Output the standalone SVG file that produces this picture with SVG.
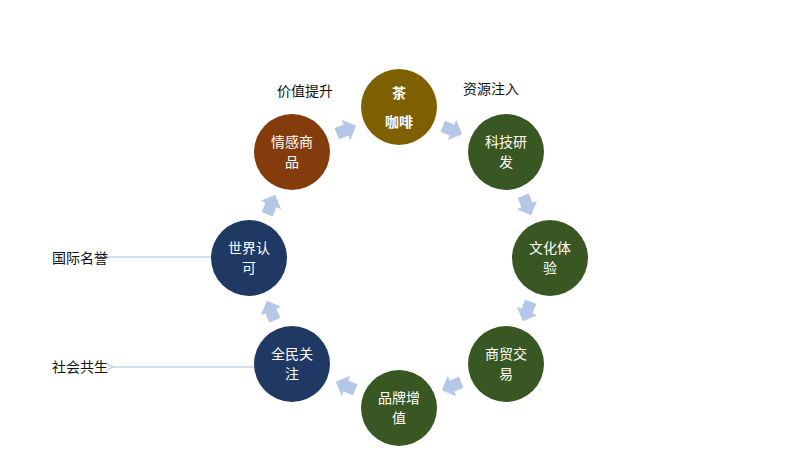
<svg xmlns="http://www.w3.org/2000/svg" width="800" height="475" viewBox="0 0 800 475">
<style>
text{font-family:"Liberation Sans","Noto Sans CJK SC",sans-serif;font-size:14px;text-anchor:middle}
.w{fill:#fff}.k{fill:#111}
.ar{fill:#b4c7e7}
.ln{stroke:#a9c0dd;stroke-width:1;fill:none}
</style>
<defs>
<path id="a" d="M-10,-6 L0,-6 L0,-11 L11,0 L0,11 L0,6 L-10,6 Z"/>
<marker id="m" markerWidth="8" markerHeight="8" refX="1" refY="4" orient="auto" markerUnits="userSpaceOnUse"><path d="M7,1 L1,4 L7,7" fill="none" stroke="#a9c0dd"/></marker>
</defs>
<rect width="800" height="475" fill="#fff"/>
<g id="connectors">
<g class="ar">
<use href="#a" transform="translate(452,130) rotate(22.5)"/>
<use href="#a" transform="translate(527,205) rotate(67.5)"/>
<use href="#a" transform="translate(527,311) rotate(112.5)"/>
<use href="#a" transform="translate(452,386) rotate(157.5)"/>
<use href="#a" transform="translate(346,386) rotate(202.5)"/>
<use href="#a" transform="translate(271,311) rotate(247.5)"/>
<use href="#a" transform="translate(271,205) rotate(292.5)"/>
<use href="#a" transform="translate(346,130) rotate(337.5)"/>
</g>
<path class="ln" d="M211,257 L108,257" marker-end="url(#m)"/>
<path class="ln" d="M254,367 L113,367" marker-end="url(#m)"/>
</g>
<g id="n0"><circle cx="399" cy="107" r="38" fill="#7f6000"/><text class="w" x="399" y="98" font-weight="bold">茶</text><text class="w" x="399" y="127" font-weight="bold">咖啡</text></g>
<g id="n1"><circle cx="506" cy="152" r="38" fill="#385723"/><text class="w" x="506" y="147">科技研</text><text class="w" x="506" y="167">发</text></g>
<g id="n2"><circle cx="550" cy="258" r="38" fill="#385723"/><text class="w" x="550" y="253">文化体</text><text class="w" x="550" y="273">验</text></g>
<g id="n3"><circle cx="506" cy="364" r="38" fill="#385723"/><text class="w" x="506" y="359">商贸交</text><text class="w" x="506" y="379">易</text></g>
<g id="n4"><circle cx="399" cy="408" r="38" fill="#385723"/><text class="w" x="399" y="403">品牌增</text><text class="w" x="399" y="423">值</text></g>
<g id="n5"><circle cx="292" cy="364" r="38" fill="#203864"/><text class="w" x="292" y="359">全民关</text><text class="w" x="292" y="379">注</text></g>
<g id="n6"><circle cx="249" cy="258" r="38" fill="#203864"/><text class="w" x="249" y="253">世界认</text><text class="w" x="249" y="273">可</text></g>
<g id="n7"><circle cx="292" cy="152" r="38" fill="#843c0c"/><text class="w" x="292" y="147">情感商</text><text class="w" x="292" y="167">品</text></g>
<g id="labels">
<text class="k" x="305" y="96">价值提升</text>
<text class="k" x="491" y="94">资源注入</text>
<text class="k" x="80" y="263">国际名誉</text>
<text class="k" x="80" y="372">社会共生</text>
</g>
</svg>
